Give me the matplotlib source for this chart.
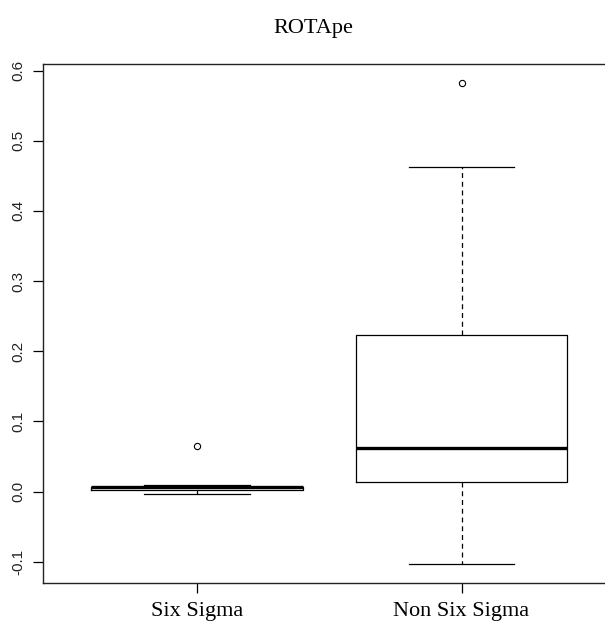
import matplotlib.pyplot as plt

# box statistics
groups = ['Six Sigma', 'Non Six Sigma']
whislo = [-0.003, -0.103]
q1 = [0.002, 0.013]
med = [0.006, 0.062]
q3 = [0.007, 0.223]
whishi = [0.009, 0.463]
fliers = [[0.065], [0.582]]

yticks = [-0.1, 0.0, 0.1, 0.2, 0.3, 0.4, 0.5, 0.6]

stats = []
for i in range(len(groups)):
    stats.append(dict(label=groups[i], whislo=whislo[i], q1=q1[i], med=med[i],
                      q3=q3[i], whishi=whishi[i], fliers=fliers[i]))

fig = plt.figure(figsize=(6.05, 6.26), dpi=100)
# right edge sits past the picture, as in the original
ax = fig.add_axes([43.4 / 605, 1 - 583 / 626, (615 - 43.4) / 605, (583 - 64) / 626])

ax.bxp(stats, positions=[1, 2], widths=0.8, showfliers=True,
       boxprops=dict(color='black', linewidth=0.9),
       whiskerprops=dict(color='black', linewidth=0.9, linestyle=(0, (4, 3))),
       capprops=dict(color='black', linewidth=0.9),
       medianprops=dict(color='black', linewidth=2.4, solid_capstyle='butt'),
       flierprops=dict(marker='o', markerfacecolor='none', markeredgecolor='black',
                       markersize=4.5, markeredgewidth=0.8),
       capwidths=0.4)

ax.set_xlim(0.42, 2.58)
ax.set_ylim(-0.1304, 0.6094)
ax.set_yticks(yticks)
ax.set_yticklabels(['%.1f' % v for v in yticks], rotation=90, va='center',
                   family='Liberation Sans', fontsize=11, color='#222222')
ax.set_xticks([1, 2])
ax.set_xticklabels(groups, family='Liberation Serif', fontsize=16)
ax.tick_params(axis='y', length=7, width=0.9, pad=6)
ax.tick_params(axis='x', length=7, width=0.9, pad=7)
for s in ax.spines.values():
    s.set_linewidth(1.0)
    s.set_color('#222222')

fig.text(313 / 605, 1 - 28 / 626, 'ROTApe', ha='center', va='center',
         family='Liberation Serif', fontsize=16)

fig.savefig('out.png', dpi=100)
